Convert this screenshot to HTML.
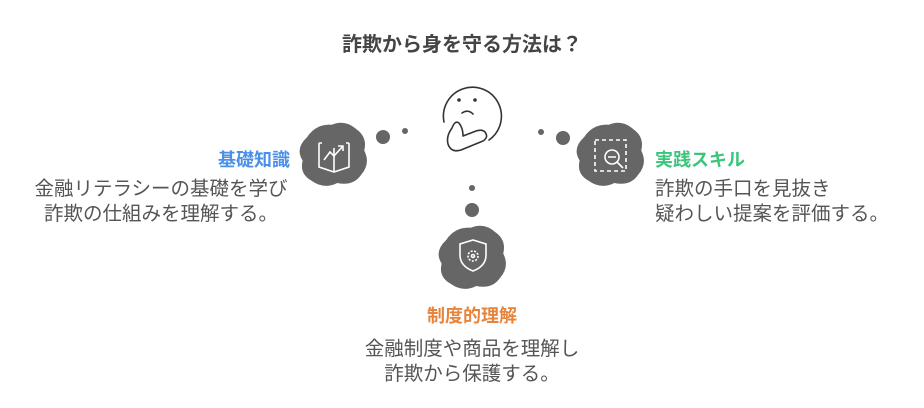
<!DOCTYPE html>
<html><head><meta charset="utf-8"><style>
body{margin:0;width:924px;height:408px;background:#fff;position:relative;overflow:hidden;font-family:"Liberation Sans","Noto Sans CJK JP",sans-serif;color:#555}
.t{position:absolute;white-space:nowrap}
.h{font-weight:bold;font-size:18px}
.b{font-size:19.5px;line-height:25px}
</style></head><body>
<div class="t" style="left:0;width:924px;top:28px;text-align:center;font-size:20px;font-weight:bold;color:#444">詐欺から身を守る方法は？</div>
<div class="t h" style="right:634px;top:146px;color:#4a8fe8">基礎知識</div>
<div class="t b" style="left:20px;width:282px;top:177px;text-align:center">金融リテラシーの基礎を学び<br>詐欺の仕組みを理解する。</div>
<div class="t h" style="left:655px;top:146px;color:#3cc47c">実践スキル</div>
<div class="t b" style="left:655px;top:177px">詐欺の手口を見抜き<br>疑わしい提案を評価する。</div>
<div class="t h" style="left:0;width:944px;top:302px;text-align:center;color:#e8843a">制度的理解</div>
<div class="t b" style="left:0;width:944px;top:337px;text-align:center">金融制度や商品を理解し<br>詐欺から保護する。</div>
<svg width="924" height="408" style="position:absolute;left:0;top:0">
<defs>
<path id="blob" d="M-24-16 q8-12 22-11 q12-5 22 4 q10 7 7 19 q6 12-3 22 q-7 10-21 7 q-12 6-23-2 q-11-6-8-18 q-7-11 4-21z"/>
</defs>
<g fill="#666">
<circle cx="383" cy="137" r="7"/><circle cx="405" cy="131" r="3"/>
<circle cx="541" cy="132" r="3"/><circle cx="563" cy="138" r="7"/>
<circle cx="472" cy="188" r="3"/><circle cx="472" cy="210" r="7"/>
<use href="#blob" transform="translate(334,155) scale(1.12)"/>
<use href="#blob" transform="translate(611,155) scale(1.12)"/>
<use href="#blob" transform="translate(473,258) scale(1.12)"/>
</g>
<g fill="none" stroke="#fff" stroke-width="1.6">
<path d="M319 143 v24 l15 5 l15-5 v-24 M334 148 v24 M319 143 h3 M346 143 h3"/>
<path d="M324 160 l6-8 4 4 9-10 M338 146 h5 v5"/>
<rect x="595" y="140" width="31" height="31" stroke-dasharray="4 3"/>
<circle cx="612" cy="157" r="7"/><path d="M608 157 h8 M617 162 l6 6"/>
<path d="M473 240 l13 4 v11 q0 11-13 16 q-13-5-13-16 v-11z"/>
<circle cx="473" cy="256" r="5" stroke-dasharray="2 1.5"/><circle cx="473" cy="256" r="1.5"/>
</g>
<g fill="none" stroke="#333" stroke-width="1.6" stroke-linecap="round" stroke-linejoin="round">
<path d="M444 122 A29 29 0 1 1 489 140"/>
<path d="M452 128 q-6 8-4 16 q3 9 13 6 l22-9 q6-4 2-9 q-3-3-9-1 l-13 5 q0-8-4-13 q-4-3-7 5"/>
<path d="M462 113 q6-4 11 1"/>
</g>
<circle cx="459" cy="100" r="1.8" fill="#333"/><circle cx="475" cy="100" r="1.8" fill="#333"/>
</svg>
</body></html>
